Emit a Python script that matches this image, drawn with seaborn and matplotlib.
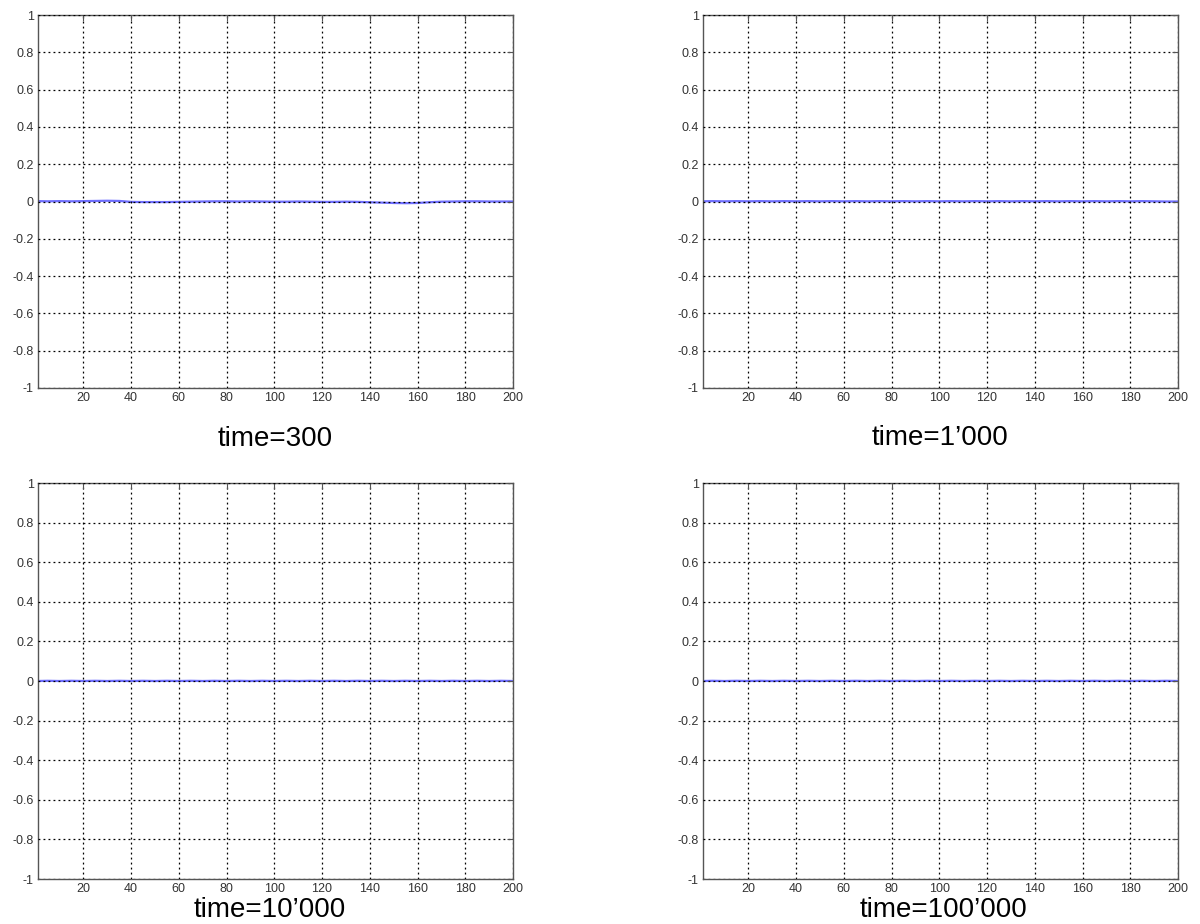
import numpy as np
import pandas as pd
import matplotlib
matplotlib.use("Agg")
import matplotlib.pyplot as plt
import seaborn as sns

# Sample positions along the 1..200 index
positions = [1, 5, 10, 15, 20, 25, 30, 35, 40, 45, 50, 55, 60, 65, 70, 75, 80,
             85, 90, 95, 100, 105, 110, 115, 120, 125, 130, 135, 140, 145, 150,
             155, 160, 165, 170, 175, 180, 185, 190, 195, 200]

# Field value at each snapshot
values_t300 = [0.002, 0.001, 0.002, 0.001, 0.002, 0.003, 0.004, 0.003, -0.002,
               -0.003, -0.003, -0.003, -0.002, -0.001, 0.0, 0.001, 0.001, 0.0,
               0.001, 0.0, -0.001, -0.001, 0.0, -0.001, -0.002, -0.002, -0.001,
               -0.002, -0.004, -0.006, -0.008, -0.009, -0.008, -0.004, -0.001,
               0.0, 0.001, 0.001, 0.0, 0.0, 0.0]
values_t1000 = [0.001, 0.002, 0.001, 0.002, 0.001, 0.002, 0.001, 0.002, 0.001,
                0.002, 0.001, 0.002, 0.001, 0.002, 0.001, 0.002, 0.001, 0.002,
                0.001, 0.002, 0.001, 0.002, 0.001, 0.002, 0.001, 0.002, 0.001,
                0.002, 0.001, 0.002, 0.001, 0.002, 0.001, 0.002, 0.001, 0.002,
                0.001, 0.002, 0.001, 0.0, 0.0]
values_t10000 = [0.0, 0.001, 0.0, 0.001, 0.0, 0.001, 0.0, 0.001, 0.0, 0.001,
                 0.0, 0.001, 0.0, 0.001, 0.0, 0.001, 0.0, 0.001, 0.0, 0.001,
                 0.0, 0.001, 0.0, 0.001, 0.0, 0.001, 0.0, 0.001, 0.0, 0.001,
                 0.0, 0.001, 0.0, 0.001, 0.0, 0.001, 0.0, 0.001, 0.0, 0.001, 0.0]
values_t100000 = [0.0, 0.001, 0.0, 0.001, 0.0, 0.001, 0.0, 0.001, 0.0, 0.001,
                  0.0, 0.001, 0.0, 0.001, 0.0, 0.001, 0.0, 0.001, 0.0, 0.001,
                  0.0, 0.001, 0.0, 0.001, 0.0, 0.001, 0.0, 0.001, 0.0, 0.001,
                  0.0, 0.001, 0.0, 0.001, 0.0, 0.001, 0.0, 0.001, 0.0, 0.001, 0.0]

panel_titles = ["time=300", "time=1\u2019000", "time=10\u2019000", "time=100\u2019000"]
x_ticks = [20, 40, 60, 80, 100, 120, 140, 160, 180, 200]
y_ticks = [-1, -0.8, -0.6, -0.4, -0.2, 0, 0.2, 0.4, 0.6, 0.8, 1]
y_tick_labels = ["-1", "-0.8", "-0.6", "-0.4", "-0.2", "0", "0.2", "0.4", "0.6", "0.8", "1"]

sns.set_style("white")
plt.rcParams["font.family"] = ["Liberation Sans", "DejaVu Sans"]

W, H = 1200, 924
fig = plt.figure(figsize=(W / 100, H / 100), dpi=100)

# Axes boxes in pixels: (left, top, right, bottom)
boxes = [(38, 15, 513, 388), (703, 15, 1178, 388),
         (38, 483, 513, 879), (703, 483, 1178, 879)]
title_pos = [(275, 439), (940, 438), (270, 910), (943, 910)]
series = [values_t300, values_t1000, values_t10000, values_t100000]

for (l, t, r, b), vals, title, (tx, ty) in zip(boxes, series, panel_titles, title_pos):
    ax = fig.add_axes([l / W, 1 - b / H, (r - l) / W, (b - t) / H])
    df = pd.DataFrame({"i": positions, "v": vals})
    sns.lineplot(data=df, x="i", y="v", ax=ax, color="#6f6fff", linewidth=1.6)
    ax.set_xlim(1, 200)
    ax.set_ylim(-1, 1)
    ax.set_xticks(x_ticks)
    ax.set_xticklabels([str(v) for v in x_ticks])
    ax.set_yticks(y_ticks)
    ax.set_yticklabels(y_tick_labels)
    ax.set_xlabel("")
    ax.set_ylabel("")
    ax.grid(True, color="black", linestyle=(0, (1.5, 2.5)), linewidth=0.9)
    ax.set_axisbelow(False)
    ax.tick_params(direction="in", length=4, width=0.8, colors="#555555",
                   labelcolor="#333333", labelsize=9, top=True, right=True,
                   pad=3)
    for sp in ax.spines.values():
        sp.set_visible(True)
        sp.set_color("#555555")
        sp.set_linewidth(1.0)
    fig.text(tx / W, 1 - ty / H, title, ha="center", va="center",
             fontsize=20, color="black")

fig.savefig("out.png", dpi=100, facecolor="white")
